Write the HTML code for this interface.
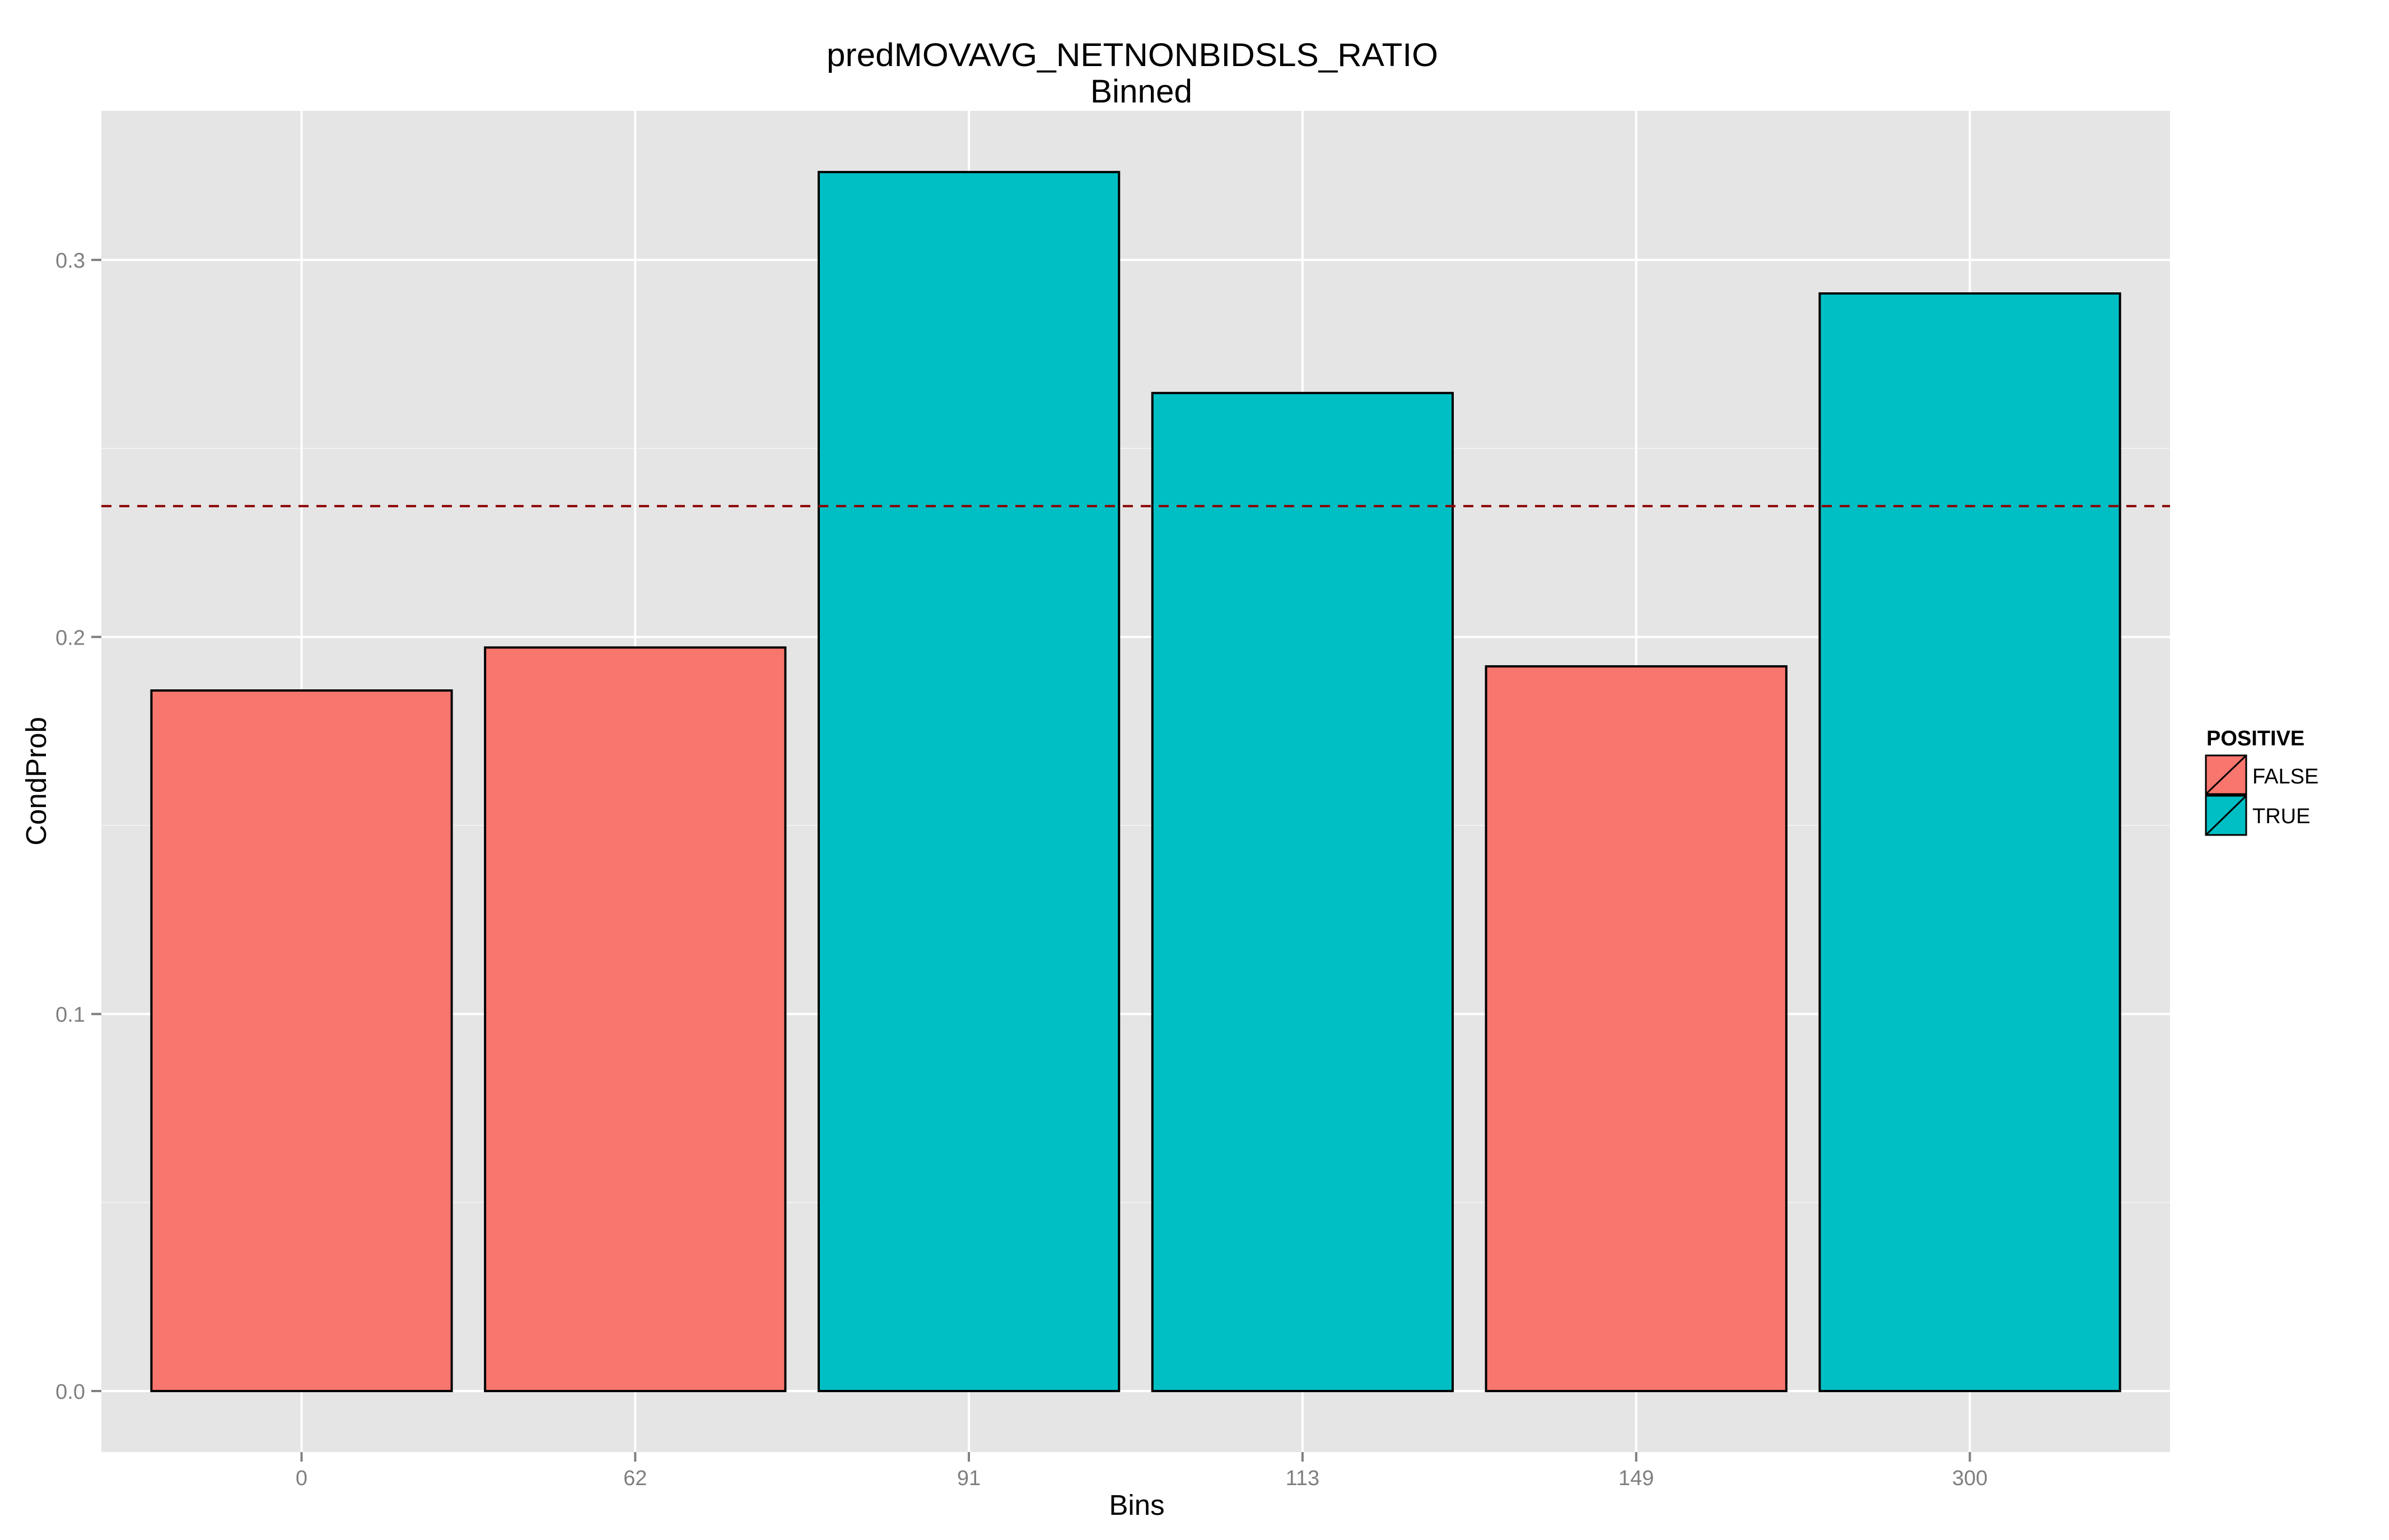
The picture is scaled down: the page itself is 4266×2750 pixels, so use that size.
<!DOCTYPE html>
<html><head><meta charset="utf-8"><style>
html,body{margin:0;padding:0;background:#fff;}
svg{display:block;font-family:"Liberation Sans",sans-serif;}
</style></head><body>
<svg id="chart" width="4266" height="2750" viewBox="0 0 4266 2750" xmlns="http://www.w3.org/2000/svg">
<rect x="0" y="0" width="4266" height="2750" fill="#ffffff"/>
<text x="2022" y="118" font-size="58" text-anchor="middle" textLength="1092" lengthAdjust="spacingAndGlyphs">predMOVAVG_NETNONBIDSLS_RATIO</text>
<text x="2038" y="183" font-size="58" text-anchor="middle" textLength="182" lengthAdjust="spacingAndGlyphs">Binned</text>
<g id="plot"></g>
<text x="2030" y="2705" font-size="51" text-anchor="middle">Bins</text>
<text x="0" y="0" font-size="51" text-anchor="middle" transform="translate(82,1395) rotate(-90)">CondProb</text>
<g>
<text x="3940" y="1331" font-size="38" font-weight="bold">POSITIVE</text>
<g>
<rect x="3939" y="1349" width="72" height="69" fill="#F8766D" stroke="#000" stroke-width="3"/>
<line x1="3939" y1="1418" x2="4011" y2="1349" stroke="#000" stroke-width="3"/>
<text x="4022" y="1399" font-size="38">FALSE</text>
</g>
<g>
<rect x="3939" y="1421" width="72" height="70" fill="#00BFC4" stroke="#000" stroke-width="3"/>
<line x1="3939" y1="1491" x2="4011" y2="1421" stroke="#000" stroke-width="3"/>
<text x="4022" y="1470" font-size="38">TRUE</text>
</g>
</g>
</svg>
<script>
const categories = ["0", "62", "91", "113", "149", "300"];
const condProb = [0.1858, 0.1972, 0.3233, 0.2647, 0.1922, 0.2911];
const positive = [false, false, true, true, false, true];
const refLine = 0.2347;
const yTicks = [0.0, 0.1, 0.2, 0.3];
const yTickLabels = ["0.0", "0.1", "0.2", "0.3"];
const yMinor = [0.05, 0.15, 0.25];

const NS = "http://www.w3.org/2000/svg";
const panel = {left: 181, right: 3875, top: 198, bottom: 2593};
const y0px = 2484, perUnit = 6733;
function yScale(v){ return y0px - v * perUnit; }
const step = (panel.right - panel.left) / (categories.length + 0.2);
function xScale(i){ return panel.left + step * (0.6 + i); }
const barW = step * 0.9;

const root = document.getElementById("chart");
const g = document.getElementById("plot");
function mk(tag, attrs, parent){
  const e = document.createElementNS(NS, tag);
  for (const k in attrs) e.setAttribute(k, attrs[k]);
  (parent || g).appendChild(e);
  return e;
}
let e;
e = mk("rect", {x: panel.left, y: panel.top, width: panel.right - panel.left, height: panel.bottom - panel.top, fill: "#E5E5E5"});



yMinor.forEach(function(v){
  e = mk("line", {x1: panel.left, x2: panel.right, y1: yScale(v), y2: yScale(v), stroke: "#F2F2F2", "stroke-width": 2});
  
  
});
yTicks.forEach(function(v, i){
  e = mk("line", {x1: panel.left, x2: panel.right, y1: yScale(v), y2: yScale(v), stroke: "#FFFFFF", "stroke-width": 4});
  
  
  e = mk("line", {x1: 163, x2: 181, y1: yScale(v), y2: yScale(v), stroke: "#7F7F7F", "stroke-width": 4}, root);
  
  
  e = mk("text", {x: 152, y: yScale(v) + 14, "font-size": 38, fill: "#7F7F7F", "text-anchor": "end"}, root);
  e.textContent = yTickLabels[i];
  
  
});
categories.forEach(function(c, i){
  const x = xScale(i);
  e = mk("line", {x1: x, x2: x, y1: panel.top, y2: panel.bottom, stroke: "#FFFFFF", "stroke-width": 4});
  
  
  e = mk("line", {x1: x, x2: x, y1: panel.bottom, y2: panel.bottom + 17, stroke: "#7F7F7F", "stroke-width": 4}, root);
  
  
  e = mk("text", {x: x, y: 2652, "font-size": 38, fill: "#7F7F7F", "text-anchor": "middle"}, root);
  e.textContent = c;
  
  
});
categories.forEach(function(c, i){
  const top = yScale(condProb[i]);
  e = mk("rect", {x: xScale(i) - barW/2, y: top, width: barW, height: y0px - top,
    fill: positive[i] ? "#00BFC4" : "#F8766D", stroke: "#000", "stroke-width": 4});
  
  
});
e = mk("line", {x1: panel.left, x2: panel.right, y1: yScale(refLine), y2: yScale(refLine), stroke: "#8B0000", "stroke-width": 4, "stroke-dasharray": "18 14"});


</script>
</body></html>
